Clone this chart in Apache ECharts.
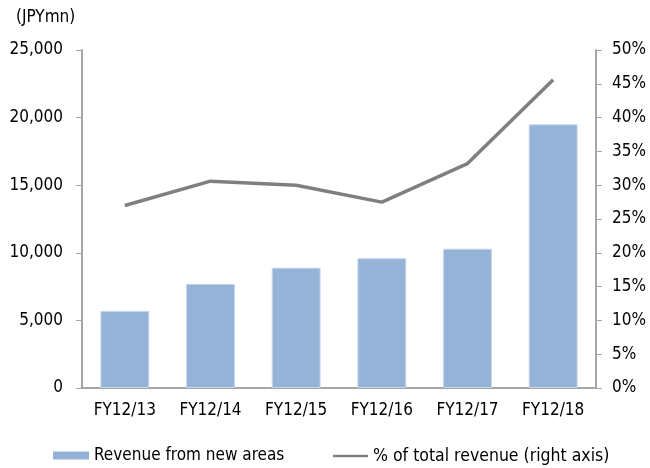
<!DOCTYPE html>
<html><head><meta charset="utf-8">
<script src="https://cdn.jsdelivr.net/npm/echarts@6/dist/echarts.min.js"></script>
<style>html,body{margin:0;padding:0;background:#fff}#c{width:650px;height:468px}</style>
</head><body><div id="c"></div>
<script>
var categories = ["FY12/13","FY12/14","FY12/15","FY12/16","FY12/17","FY12/18"];
var revenue = [5700, 7700, 8900, 9600, 10300, 19500];
var pctTotal = [27.0, 30.6, 30.0, 27.5, 33.2, 45.6];
var leftTicks = [0, 5000, 10000, 15000, 20000, 25000];
var rightTicks = [0, 5, 10, 15, 20, 25, 30, 35, 40, 45, 50];

var font = "'DejaVu Sans Condensed', 'DejaVu Sans', sans-serif";
var fs = 17;
var chart = echarts.init(document.getElementById('c'), null, {renderer:'canvas'});
chart.setOption({
  animation:false,
  textStyle:{fontFamily:font},
  grid:{left:82,right:54,top:50,bottom:80},
  legend:[
    {top:447,left:53,padding:0,itemWidth:36,itemHeight:8,itemGap:4,
     textStyle:{fontFamily:font,fontSize:fs,color:'#000'},
     data:[{name:'Revenue from new areas',icon:'rect',itemStyle:{borderWidth:0}}]},
    {top:447,left:333,padding:0,itemWidth:35,itemHeight:10,itemGap:2,
     textStyle:{fontFamily:font,fontSize:17.5,color:'#000'},
     data:[{name:'% of total revenue (right axis)',icon:'path://M0,4h35v2.5h-35z'}]}
  ],
  graphic:[{type:'text',left:16,top:9,style:{text:'(JPYmn)',fontFamily:font,fontSize:fs,fill:'#000'}}],
  xAxis:{type:'category',data:categories,
    axisLine:{lineStyle:{color:'#a6a6a6',width:2}},
    axisTick:{show:false},
    axisLabel:{color:'#000',fontSize:fs,fontFamily:font,margin:14}},
  yAxis:[
    {type:'value',min:leftTicks[0],max:leftTicks[leftTicks.length-1],interval:5000,
     splitLine:{show:false},
     axisLine:{show:true,lineStyle:{color:'#a6a6a6',width:2}},
     axisTick:{show:true,length:6,lineStyle:{color:'#a6a6a6'}},
     axisLabel:{color:'#000',fontSize:fs,fontFamily:font,margin:19,
       formatter:function(v){return v.toLocaleString('en-US');}}},
    {type:'value',min:rightTicks[0],max:rightTicks[rightTicks.length-1],interval:5,position:'right',
     splitLine:{show:false},
     axisLine:{show:true,lineStyle:{color:'#a6a6a6',width:2}},
     axisTick:{show:true,length:6,lineStyle:{color:'#a6a6a6'}},
     axisLabel:{color:'#000',fontSize:fs,fontFamily:font,margin:16,formatter:'{value}%'}}
  ],
  series:[
    {name:'Revenue from new areas',type:'bar',data:revenue,barWidth:'57%',
     itemStyle:{color:'#95b3d7',borderColor:'#c5d5ea',borderWidth:1}},
    {name:'% of total revenue (right axis)',type:'line',yAxisIndex:1,data:pctTotal,
     symbol:'none',lineStyle:{color:'#7f7f7f',width:3.5},itemStyle:{color:'#7f7f7f'}}
  ]
});
</script></body></html>
